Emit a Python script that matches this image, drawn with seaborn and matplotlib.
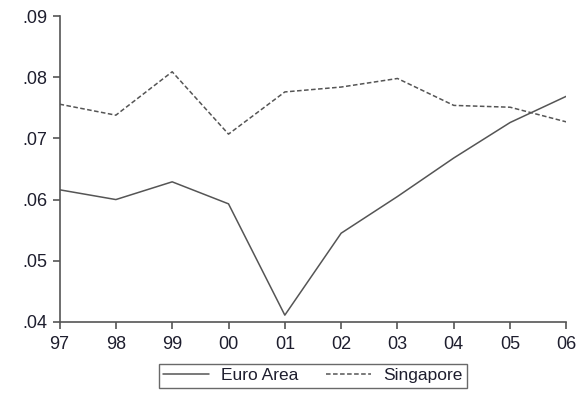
import matplotlib
matplotlib.use("Agg")
import matplotlib.pyplot as plt
import seaborn as sns
import pandas as pd

years = ["97", "98", "99", "00", "01", "02", "03", "04", "05", "06"]
euro_area = [0.0616, 0.0600, 0.0629, 0.0593, 0.0411, 0.0545, 0.0605, 0.0668, 0.0726, 0.0769]
singapore = [0.0756, 0.0738, 0.0809, 0.0707, 0.0776, 0.0784, 0.0798, 0.0754, 0.0751, 0.0727]
series_names = ["Euro Area", "Singapore"]
y_ticks = [0.04, 0.05, 0.06, 0.07, 0.08, 0.09]
y_tick_labels = [".04", ".05", ".06", ".07", ".08", ".09"]

df = pd.DataFrame({
    "pos": list(range(len(years))) * 2,
    "value": euro_area + singapore,
    "series": [series_names[0]] * len(years) + [series_names[1]] * len(years),
})

sns.set_theme(style="ticks")
plt.rcParams["font.family"] = ["Liberation Sans", "DejaVu Sans"]

text_color = "#1e1e2e"
line_color = "#555555"

fig = plt.figure(figsize=(5.78, 3.93), dpi=100)
ax = fig.add_axes([0.103, 0.181, 0.877, 0.778])

sns.lineplot(
    data=df, x="pos", y="value", hue="series", style="series",
    palette=[line_color, line_color],
    dashes={"Euro Area": "", "Singapore": (3, 1.6)},
    linewidth=1.1, ax=ax, legend=False,
)

ax.set_xlim(0, len(years) - 1)
ax.set_ylim(0.04, 0.09)
ax.set_xticks(range(len(years)))
ax.set_xticklabels(years)
ax.set_yticks(y_ticks)
ax.set_yticklabels(y_tick_labels)
ax.set_xlabel("")
ax.set_ylabel("")

for side in ("top", "right"):
    ax.spines[side].set_visible(False)
for side in ("left", "bottom"):
    ax.spines[side].set_color("#555555")
    ax.spines[side].set_linewidth(1.2)

ax.tick_params(axis="both", which="major", direction="out", length=5,
               width=1.2, color="#555555", labelsize=13,
               labelcolor=text_color, bottom=True, left=True)
ax.tick_params(axis="y", pad=4)
ax.tick_params(axis="x", pad=5)

handles = [
    plt.Line2D([], [], color=line_color, linewidth=1.1),
    plt.Line2D([], [], color=line_color, linewidth=1.1, dashes=(3, 1.6)),
]
leg = fig.legend(
    handles, series_names, loc="upper center",
    bbox_to_anchor=(313 / 578, 1 - 364 / 393), ncol=2,
    frameon=True, fancybox=False, fontsize=12.5, handlelength=2.6,
    handletextpad=0.7, columnspacing=1.6, borderpad=0.25,
    borderaxespad=0.0,
)
leg.get_frame().set_edgecolor("#444444")
leg.get_frame().set_linewidth(1.0)
for t in leg.get_texts():
    t.set_color(text_color)

fig.savefig("out.png", dpi=100)
